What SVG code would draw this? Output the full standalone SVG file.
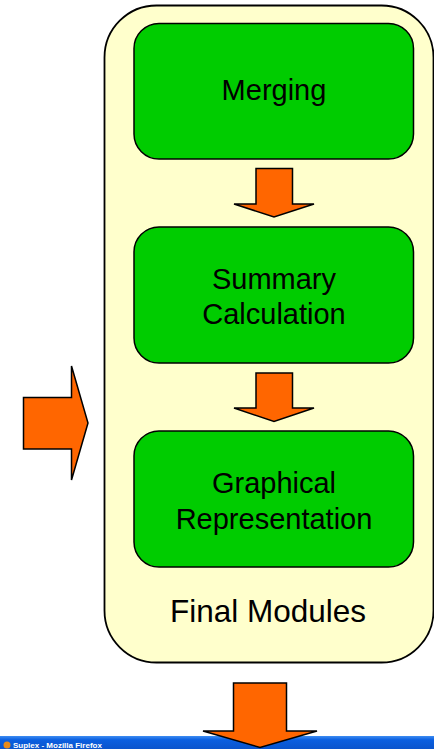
<svg xmlns="http://www.w3.org/2000/svg" width="434" height="749" viewBox="0 0 434 749">
  <defs>
    <linearGradient id="titlebar" x1="0" y1="0" x2="0" y2="1">
      <stop offset="0" stop-color="#3d8cf2"/>
      <stop offset="0.3" stop-color="#0b5fe0"/>
      <stop offset="1" stop-color="#0a54cc"/>
    </linearGradient>
  </defs>
  <style>
    .module { fill: #00cc00; stroke: #000; stroke-width: 1.5; }
    .arrow { fill: #ff6600; stroke: #000; stroke-width: 1.5; stroke-linejoin: miter; }
    .label { font-family: "Liberation Sans", Arial, sans-serif; font-size: 29px; fill: #000; text-anchor: middle; }
  </style>
  <rect width="434" height="749" fill="#fff"/>

  <!-- browser window title bar at the bottom edge -->
  <g id="titlebar-strip">
    <rect x="0" y="736" width="434" height="13" fill="url(#titlebar)"/>
    <circle cx="7" cy="745" r="3.5" fill="#e88a1a"/>
    <text x="13" y="748" font-family="Liberation Sans, Arial, sans-serif" font-size="8" font-weight="bold" fill="#fff">Suplex - Mozilla Firefox</text>
  </g>

  <!-- container -->
  <g id="final-modules">
    <rect x="104.5" y="5.5" width="329" height="657" rx="52" ry="52" fill="#ffffcc" stroke="#000" stroke-width="1.8"/>
    <text class="label" x="268" y="622" style="font-size:31.5px">Final Modules</text>
  </g>

  <g id="merging">
    <rect class="module" x="134" y="23.5" width="279.5" height="135.5" rx="25" ry="25"/>
    <text class="label" x="274" y="100">Merging</text>
  </g>

  <g id="summary-calculation">
    <rect class="module" x="134" y="227" width="279.5" height="136" rx="25" ry="25"/>
    <text class="label" x="274" y="289">Summary</text>
    <text class="label" x="274" y="324">Calculation</text>
  </g>

  <g id="graphical-representation">
    <rect class="module" x="134" y="431" width="279.5" height="136" rx="25" ry="25"/>
    <text class="label" x="274" y="493">Graphical</text>
    <text class="label" x="274" y="529">Representation</text>
  </g>

  <!-- connectors -->
  <g id="connectors">
    <polygon class="arrow" points="256,168.5 292.5,168.5 292.5,204 314,204 274,217 234,204 256,204"/>
    <polygon class="arrow" points="256,373 292.5,373 292.5,408 314,408 274,421.5 234,408 256,408"/>
    <polygon class="arrow" points="23.5,397.5 71.5,397.5 71.5,366 88,423 71.5,480 71.5,449 23.5,449"/>
    <polygon class="arrow" points="233.5,683 286.5,683 286.5,731 317,731 260,747.5 203,731 233.5,731"/>
  </g>
</svg>
